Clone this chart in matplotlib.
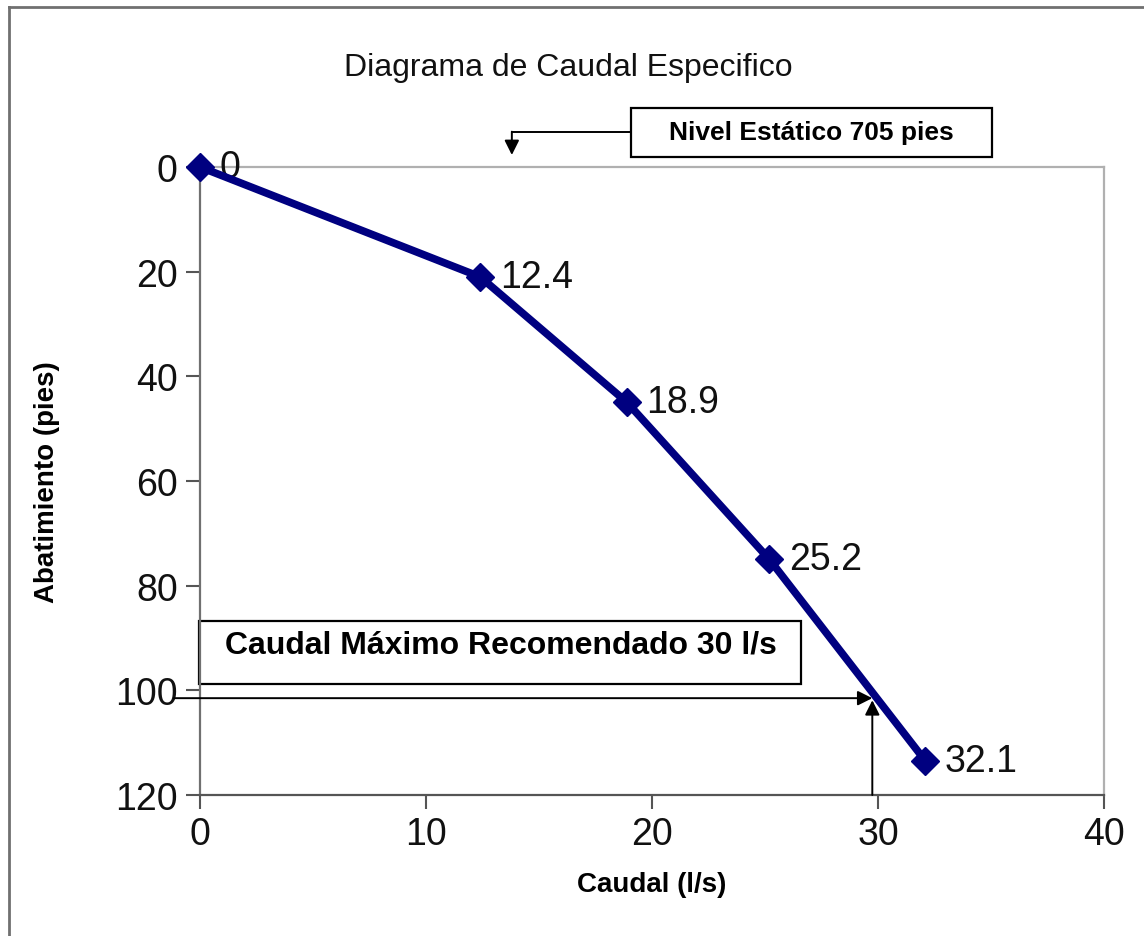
import matplotlib
matplotlib.use("Agg")
import matplotlib.pyplot as plt
from matplotlib.patches import Rectangle
from matplotlib.lines import Line2D

plt.rcParams["font.family"] = ["Liberation Sans", "DejaVu Sans"]

# -------------------------------------------------------------------
# Data
# -------------------------------------------------------------------
caudal = [0, 12.4, 18.9, 25.2, 32.1]          # l/s
abatimiento = [0, 21, 45, 75, 113.5]           # pies
etiquetas = ["0", "12.4", "18.9", "25.2", "32.1"]

x_ticks = [0, 10, 20, 30, 40]
y_ticks = [0, 20, 40, 60, 80, 100, 120]

caudal_max = 29.8        # caudal recomendado marcado con flechas
abat_max = 101.5

# -------------------------------------------------------------------
# Figure
# -------------------------------------------------------------------
fig = plt.figure(figsize=(11.44, 9.37), dpi=100)
ax = fig.add_axes([0.1748, 0.1505, 0.7902, 0.6702])

ax.plot(caudal, abatimiento, color="#000080", linewidth=5.5,
        marker="D", markersize=14, clip_on=False, zorder=5)

for x, y, t in zip(caudal, abatimiento, etiquetas):
    ax.annotate(t, (x, y), xytext=(14, 0), textcoords="offset points",
                ha="left", va="center", fontsize=27, color="#111111",
                annotation_clip=False)

ax.set_xlim(0, 40)
ax.set_ylim(120, 0)
ax.set_xticks(x_ticks)
ax.set_yticks(y_ticks)
ax.tick_params(axis="both", labelsize=27, length=10, width=1.5,
               color="#555555", direction="out", labelcolor="#111111")
ax.tick_params(axis="y", pad=6)
ax.tick_params(axis="x", pad=5)

ax.spines["left"].set_color("#707070")
ax.spines["bottom"].set_color("#555555")
ax.spines["top"].set_color("#b0b0b0")
ax.spines["right"].set_color("#b0b0b0")
for s in ax.spines.values():
    s.set_linewidth(1.6)

ax.set_xlabel("Caudal (l/s)", fontsize=20, fontweight="bold", labelpad=14)
ax.set_ylabel("Abatimiento (pies)", fontsize=20, fontweight="bold", labelpad=40)

fig.text(0.497, 0.927, "Diagrama de Caudal Especifico", ha="center",
         va="center", fontsize=23, color="#111111")

# -------------------------------------------------------------------
# Annotations
# -------------------------------------------------------------------
# Nivel estatico box + elbow arrow
ax.add_patch(Rectangle((19.07, -11.27), 15.97, 9.36, fill=False,
                       edgecolor="black", linewidth=1.6, clip_on=False))
ax.text(27.05, -6.7, "Nivel Estático 705 pies", ha="center", va="center",
        fontsize=19, fontweight="bold", clip_on=False)
ax.plot([19.07, 13.8], [-6.7, -6.7], color="black", lw=1.4, clip_on=False)
ax.annotate("", xy=(13.8, -2.3), xytext=(13.8, -6.75),
            arrowprops=dict(arrowstyle="-|>", color="black", lw=1.4,
                            mutation_scale=22, shrinkA=0, shrinkB=0),
            annotation_clip=False)

# Caudal maximo box + arrows
ax.add_patch(Rectangle((-0.04, 86.8), 26.64, 12.0, fill=False,
                       edgecolor="black", linewidth=1.6, clip_on=False))
ax.text(13.3, 91.3, "Caudal Máximo Recomendado 30 l/s", ha="center",
        va="center", fontsize=23, fontweight="bold", clip_on=False)
ax.annotate("", xy=(caudal_max - 0.05, abat_max), xytext=(-1.15, abat_max),
            arrowprops=dict(arrowstyle="-|>", color="black", lw=1.4,
                            mutation_scale=22, shrinkA=0, shrinkB=0),
            annotation_clip=False)
ax.annotate("", xy=(caudal_max - 0.05, abat_max + 0.4), xytext=(caudal_max - 0.05, 120),
            arrowprops=dict(arrowstyle="-|>", color="black", lw=1.4,
                            mutation_scale=22, shrinkA=0, shrinkB=0),
            annotation_clip=False)

# outer frame (left and top only, like the cropped original)
fig.add_artist(Line2D([0.0083, 0.0083], [0, 0.991], transform=fig.transFigure,
                      color="#707070", lw=2))
fig.add_artist(Line2D([0.0083, 1.0], [0.991, 0.991], transform=fig.transFigure,
                      color="#707070", lw=2))

fig.savefig("out.png", dpi=100)
